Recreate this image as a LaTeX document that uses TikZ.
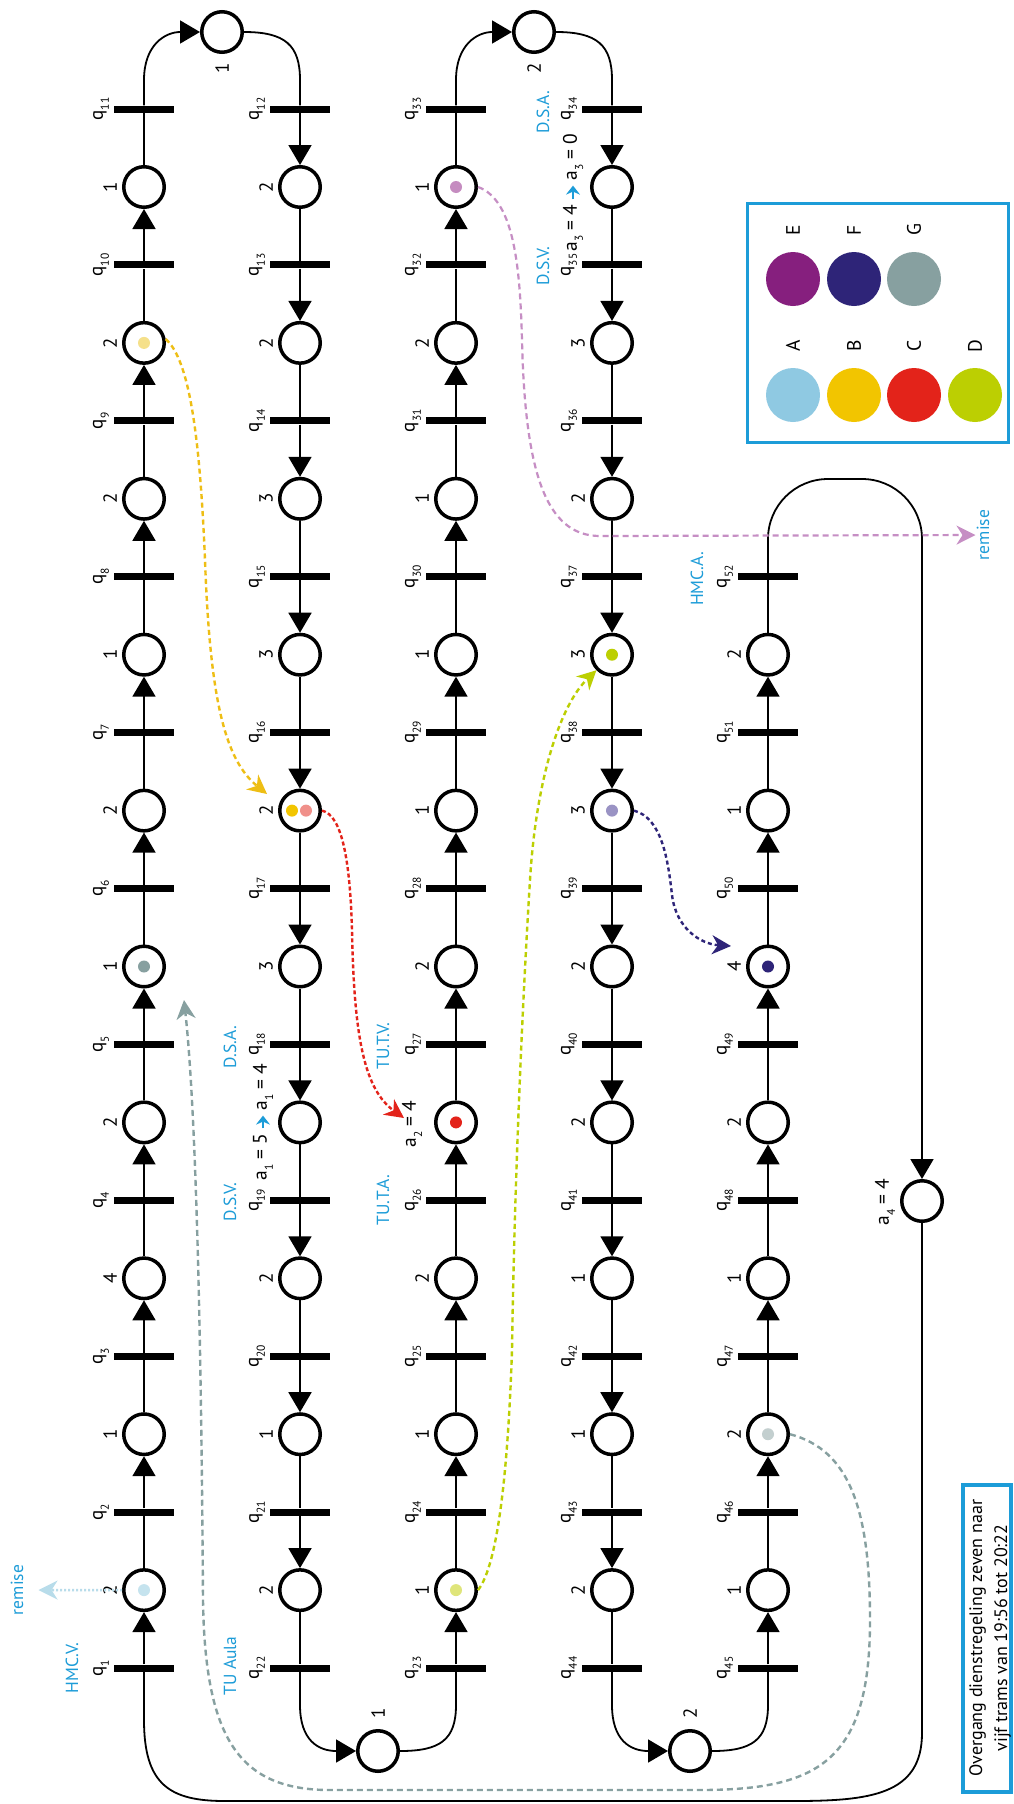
\documentclass[tikz,border=0pt]{standalone}
\usepackage{fontspec}
\setmainfont{PT Sans}
\usetikzlibrary{arrows.meta}
\definecolor{lbl}{RGB}{28,156,216}
\definecolor{colA}{RGB}{143,201,226}
\definecolor{colB}{RGB}{242,197,0}
\definecolor{colC}{RGB}{227,35,26}
\definecolor{colD}{RGB}{188,207,2}
\definecolor{colE}{RGB}{134,31,126}
\definecolor{colF}{RGB}{46,36,120}
\definecolor{colG}{RGB}{135,160,160}
\definecolor{tokA}{RGB}{197,227,238}
\definecolor{tokB}{RGB}{245,224,138}
\definecolor{tokC}{RGB}{240,144,138}
\definecolor{tokD}{RGB}{223,229,122}
\definecolor{tokE}{RGB}{197,140,192}
\definecolor{tokF}{RGB}{154,147,196}
\definecolor{tokG}{RGB}{195,207,207}
\definecolor{dashB}{RGB}{238,190,20}
\definecolor{dashE}{RGB}{198,142,196}
\definecolor{dashA}{RGB}{184,220,234}
\newcommand{\mysub}[1]{\raisebox{-0.32em}{\fontsize{11.5}{11.5}\selectfont #1}}
\newcommand{\qq}[1]{q\mysub{#1}}
\newcommand{\asub}[1]{a\mysub{#1}}
\tikzset{
  pnplace/.style={circle,draw,fill=white,line width=3.5pt,minimum size=40.5pt,inner sep=0pt},
  pntrans/.style={rectangle,fill=black,minimum width=60pt,minimum height=7pt,inner sep=0pt},
  pnarc/.style={line width=1.8pt,-{Triangle[length=20pt,width=23pt]}},
  pnline/.style={line width=1.8pt},
  numlab/.style={rotate=90,font=\fontsize{19}{21}\selectfont,inner sep=1pt},
  alab/.style={rotate=90,font=\fontsize{19.5}{21}\selectfont,inner sep=1pt},
  stlab/.style={rotate=90,font=\fontsize{17.5}{20}\selectfont,text=lbl,inner sep=1pt},
  leglab/.style={rotate=90,font=\fontsize{19.5}{21}\selectfont,inner sep=1pt},
  legdot/.style={circle,inner sep=0pt,minimum size=54pt},
  flow/.style={line width=2.4pt,-{Stealth[length=19pt,width=19pt,inset=6pt]}},
  bluearr/.style={lbl,line width=2.2pt,-{Stealth[length=9pt,width=14pt,inset=3pt]},shorten <=4pt,shorten >=4pt},
}
\begin{document}
\begin{tikzpicture}[x=1pt,y=-1pt]
\useasboundingbox (0,0) rectangle (1013,1804);
\fill[white] (0,0) rectangle (1013,1804);

% ---------- column 1 (upwards)
\foreach \k in {1,...,11}{
  \node[pntrans] (q\k) at (144,{109+155.9*(11-\k)}) {};
  \node[numlab] (lq\k) at ([xshift=-43pt]q\k.center) {\qq{\k}};
}
\foreach \i/\lb in {0/1,1/2,2/2,3/1,4/2,5/1,6/2,7/4,8/1,9/2}{
  \node[pnplace] (pA\i) at (144,{187+155.9*\i}) {};
  \node[numlab] (lpA\i) at ([xshift=-34pt]pA\i.center) {\lb};
}
% ---------- column 2 (downwards)
\foreach \k in {12,...,22}{
  \node[pntrans] (q\k) at (300,{109+155.9*(\k-12)}) {};
  \node[numlab] (lq\k) at ([xshift=-43pt]q\k.center) {\qq{\k}};
}
\foreach \i in {0,...,9}{\node[pnplace] (pB\i) at (300,{187+155.9*\i}) {};}
\foreach \i/\lb in {0/2,1/2,2/3,3/3,4/2,5/3,7/2,8/1,9/2}{
  \node[numlab] (lpB\i) at ([xshift=-34pt]pB\i.center) {\lb};
}
% ---------- column 3 (upwards)
\foreach \k in {23,...,33}{
  \node[pntrans] (q\k) at (456,{109+155.9*(33-\k)}) {};
  \node[numlab] (lq\k) at ([xshift=-43pt]q\k.center) {\qq{\k}};
}
\foreach \i in {0,...,9}{\node[pnplace] (pC\i) at (456,{187+155.9*\i}) {};}
\foreach \i/\lb in {0/1,1/2,2/1,3/1,4/1,5/2,7/2,8/1,9/1}{
  \node[numlab] (lpC\i) at ([xshift=-34pt]pC\i.center) {\lb};
}
% ---------- column 4 (downwards)
\foreach \k in {34,...,44}{
  \node[pntrans] (q\k) at (612,{109+155.9*(\k-34)}) {};
  \node[numlab] (lq\k) at ([xshift=-43pt]q\k.center) {\qq{\k}};
}
\foreach \i in {0,...,9}{\node[pnplace] (pD\i) at (612,{187+155.9*\i}) {};}
\foreach \i/\lb in {1/3,2/2,3/3,4/3,5/2,6/2,7/1,8/1,9/2}{
  \node[numlab] (lpD\i) at ([xshift=-34pt]pD\i.center) {\lb};
}
% ---------- column 5 (upwards)
\foreach \k in {45,...,52}{
  \node[pntrans] (q\k) at (768,{109+155.9*(55-\k)}) {};
  \node[numlab] (lq\k) at ([xshift=-43pt]q\k.center) {\qq{\k}};
}
\foreach \i/\lb in {3/2,4/1,5/4,6/2,7/1,8/2,9/1}{
  \node[pnplace] (pE\i) at (768,{187+155.9*\i}) {};
  \node[numlab] (lpE\i) at ([xshift=-34pt]pE\i.center) {\lb};
}

% ---------- turning places
\node[pnplace] (tAB) at (222,32) {};
\node[numlab] (ltAB) at (222,68) {1};
\node[pnplace] (tCD) at (534,32) {};
\node[numlab] (ltCD) at (534,68) {2};
\node[pnplace] (bBC) at (378,1751) {};
\node[numlab] (lbBC) at (378,1713) {1};
\node[pnplace] (bDE) at (690,1751) {};
\node[numlab] (lbDE) at (690,1713) {2};
\node[pnplace] (pa4) at (922,1201) {};

% ---------- arcs along the columns
\foreach \i in {0,...,9}{
  \pgfmathtruncatemacro\kb{10-\i}\pgfmathtruncatemacro\ka{11-\i}
  \draw[pnarc] (q\kb) -- (pA\i); \draw[pnline] (pA\i) -- (q\ka);
  \pgfmathtruncatemacro\kb{12+\i}\pgfmathtruncatemacro\ka{13+\i}
  \draw[pnarc] (q\kb) -- (pB\i); \draw[pnline] (pB\i) -- (q\ka);
  \pgfmathtruncatemacro\kb{32-\i}\pgfmathtruncatemacro\ka{33-\i}
  \draw[pnarc] (q\kb) -- (pC\i); \draw[pnline] (pC\i) -- (q\ka);
  \pgfmathtruncatemacro\kb{34+\i}\pgfmathtruncatemacro\ka{35+\i}
  \draw[pnarc] (q\kb) -- (pD\i); \draw[pnline] (pD\i) -- (q\ka);
}
\foreach \i in {3,...,9}{
  \pgfmathtruncatemacro\kb{54-\i}\pgfmathtruncatemacro\ka{55-\i}
  \draw[pnarc] (q\kb) -- (pE\i); \draw[pnline] (pE\i) -- (q\ka);
}

% ---------- turns
\draw[pnarc] (q11) -- (144,80) .. controls (144,45) and (165,32) .. (tAB);
\draw[pnline] (tAB) .. controls (285,32) and (300,45) .. (300,80) -- (q12);
\draw[pnarc] (q33) -- (456,80) .. controls (456,45) and (477,32) .. (tCD);
\draw[pnline] (tCD) .. controls (597,32) and (612,45) .. (612,80) -- (q34);
\draw[pnarc] (q22) -- (300,1705) .. controls (300,1740) and (318,1751) .. (bBC);
\draw[pnline] (bBC) .. controls (440,1751) and (456,1740) .. (456,1705) -- (q23);
\draw[pnarc] (q44) -- (612,1705) .. controls (612,1740) and (630,1751) .. (bDE);
\draw[pnline] (bDE) .. controls (752,1751) and (768,1740) .. (768,1705) -- (q45);
\draw[pnarc, rounded corners=60pt] (q52) -- (768,479) -- (922,479) -- (pa4);
\draw[pnline] (pa4) -- (922,1733) .. controls (922,1795) and (870,1801) .. (793,1801)
  -- (225,1801) .. controls (170,1801) and (144,1785) .. (144,1720) -- (q1);

% ---------- tokens
\fill[tokA] (pA9) circle (6pt);
\fill[colG] (pA5) circle (6pt);
\fill[tokB] (pA1) circle (6pt);
\fill[colB] ([xshift=-8pt]pB4.center) circle (6pt);
\fill[tokC] ([xshift=6pt]pB4.center) circle (6pt);
\fill[tokE] (pC0) circle (6pt);
\fill[colC] (pC6) circle (6pt);
\fill[tokD] (pC9) circle (6pt);
\fill[colD] (pD3) circle (6pt);
\fill[tokF] (pD4) circle (6pt);
\fill[colF] (pE5) circle (6pt);
\fill[tokG] (pE8) circle (6pt);

% ---------- a labels
\node[alab] (a1from) at (263,1157) {\asub{1} = 5};
\node[alab] (a1to) at (263,1087) {\asub{1} = 4};
\draw[bluearr] (a1from.east) -- (a1to.west);
\node[alab] (a2lab) at (412,1124) {\asub{2} = 4};
\node[alab] (a3from) at (573,228) {\asub{3} = 4};
\node[alab] (a3to) at (573,157) {\asub{3} = 0};
\draw[bluearr] (a3from.east) -- (a3to.west);
\node[alab] (a4lab) at (885,1202) {\asub{4} = 4};

% ---------- station labels
\node[stlab] (sHMCV) at (72,1668) {HMC.V.};
\node[stlab] (sTUAula) at (230,1666) {TU Aula};
\node[stlab] (sDSA1) at (230,1047) {D.S.A.};
\node[stlab] (sDSV1) at (230,1202) {D.S.V.};
\node[stlab] (sTUTV) at (383,1046) {TU.T.V.};
\node[stlab] (sTUTA) at (383,1200) {TU.T.A.};
\node[stlab] (sDSA2) at (543,112) {D.S.A.};
\node[stlab] (sDSV2) at (543,266) {D.S.V.};
\node[stlab] (sHMCA) at (697,579) {HMC.A.};
\node[stlab] (remiseL) at (17,1590) {remise};
\node[stlab] (remiseR) at (983,535) {remise};

% ---------- tips of the dashed connectors
\coordinate (ytip) at (267,794);
\coordinate (rtip) at (404,1118);
\coordinate (ntip) at (731,946);
\coordinate (gtip) at (184,1000);

% ---------- dashed connectors
\draw[flow, dashB, dash pattern=on 5pt off 3.5pt] (pA1.10) .. controls (190,360) and (200,440) .. (205,560)
   .. controls (210,700) and (225,760) .. (ytip);
\draw[flow, colC, dash pattern=on 4pt off 2.5pt] (pB4.east) .. controls (342,815) and (350,860) .. (352,930)
   .. controls (354,1040) and (365,1090) .. (rtip);
\draw[flow, dashE, dash pattern=on 6pt off 4pt, line width=2.2pt] (pC0.east) .. controls (515,200) and (520,270) .. (522,340)
   .. controls (525,470) and (545,536) .. (600,536) -- (remiseR);
\draw[flow, colD, dash pattern=on 5pt off 3.5pt] (pC9.east) .. controls (498,1565) and (508,1470) .. (512,1350)
   .. controls (515,1150) and (525,960) .. (530,880)
   .. controls (536,780) and (560,705) .. (pD3.225);
\draw[flow, colF, dash pattern=on 4pt off 3pt] (pD4.east) .. controls (662,818) and (668,860) .. (672,895)
   .. controls (676,928) and (700,944) .. (ntip);
\draw[flow, colG, dash pattern=on 6pt off 4pt] (pE8.east) .. controls (850,1450) and (870,1510) .. (870,1620)
   .. controls (870,1760) and (820,1790) .. (700,1790) -- (330,1790)
   .. controls (240,1790) and (205,1740) .. (203,1600)
   .. controls (201,1300) and (195,1100) .. (gtip);
\draw[flow, dashA, dash pattern=on 2pt off 2pt, shorten >=14pt] (pA9.west) -- (remiseL);

% ---------- legend
\node[draw=lbl, line width=3pt, minimum width=261pt, minimum height=239pt, inner sep=0pt] (legend) at (877.5,322.5) {};
\node[legdot, fill=colE] (lgE) at (793,279) {};
\node[legdot, fill=colF] (lgF) at (854,279) {};
\node[legdot, fill=colG] (lgG) at (914,279) {};
\node[legdot, fill=colA] (lgA) at (793,395) {};
\node[legdot, fill=colB] (lgB) at (854,395) {};
\node[legdot, fill=colC] (lgC) at (914,395) {};
\node[legdot, fill=colD] (lgD) at (975,395) {};
\node[leglab] (llE) at (793,230) {E};
\node[leglab] (llF) at (854,230) {F};
\node[leglab] (llG) at (914,230) {G};
\node[leglab] (llA) at (793,346) {A};
\node[leglab] (llB) at (854,346) {B};
\node[leglab] (llC) at (914,346) {C};
\node[leglab] (llD) at (975,346) {D};

% ---------- note
\node[draw=lbl, line width=3.5pt, minimum width=48pt, minimum height=307pt, inner sep=0pt] (notebox) at (987,1638.5) {};
\node[rotate=90, align=center, font=\fontsize{18}{25}\selectfont, inner sep=0pt] (notetext) at (990,1638)
  {Overgang dienstregeling zeven naar\\vijf trams van 19:56 tot 20:22};
\end{tikzpicture}
\end{document}
